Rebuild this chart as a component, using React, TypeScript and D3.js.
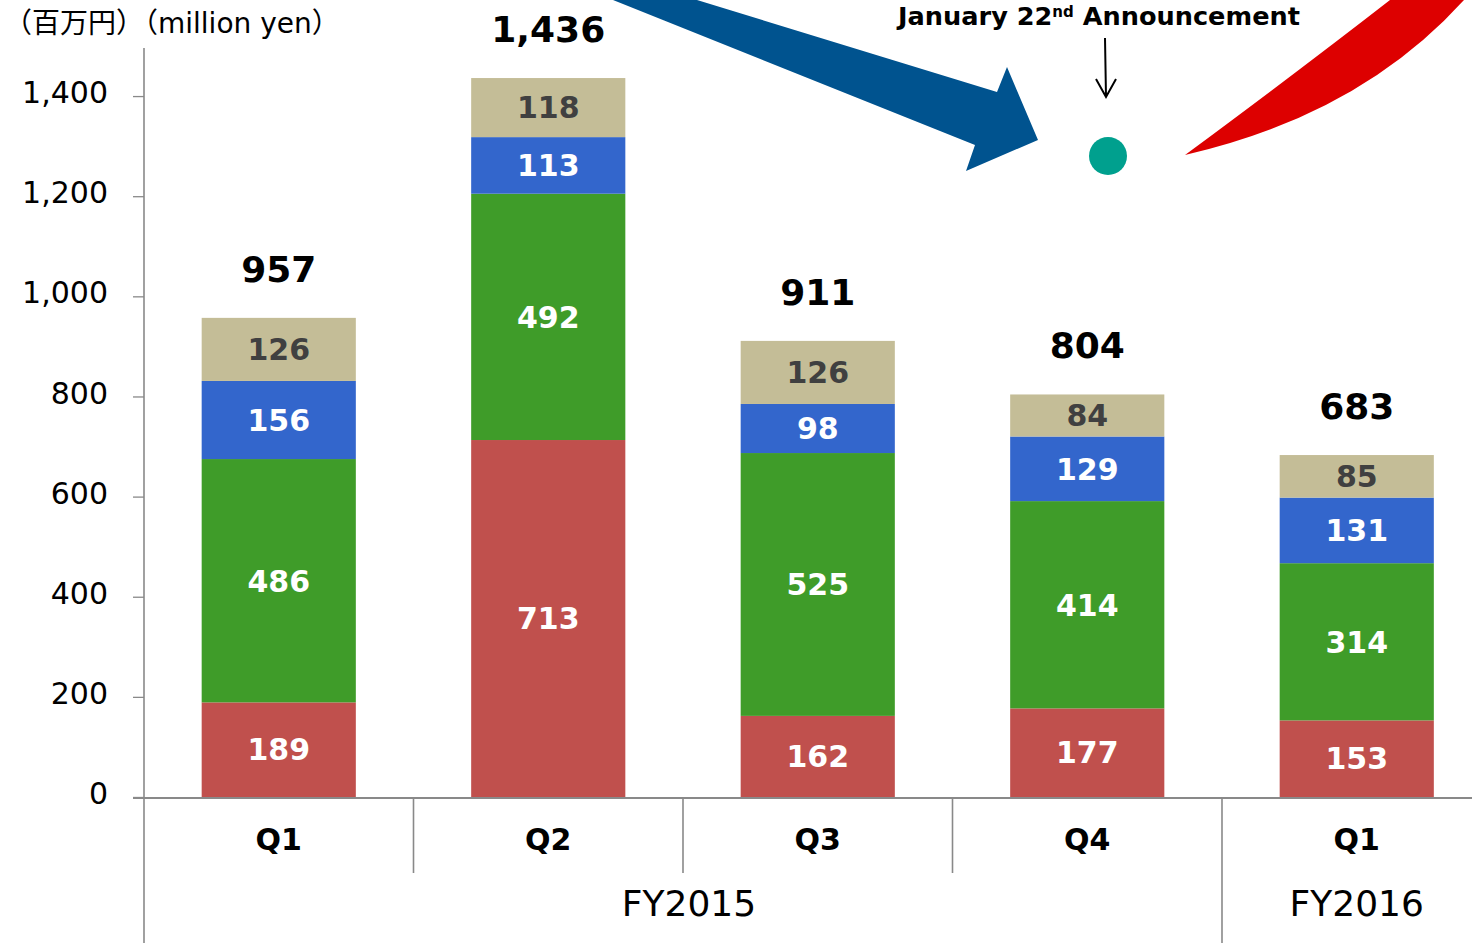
import React, { useEffect, useRef } from "react";
import * as d3 from "d3";

// quarters shown on the x axis
const periods = ["FY2015 Q1", "FY2015 Q2", "FY2015 Q3", "FY2015 Q4", "FY2016 Q1"];
const quarterLabels = ["Q1", "Q2", "Q3", "Q4", "Q1"];
const fiscalYears = ["FY2015", "FY2016"];
const fiscalYearOfPeriod = ["FY2015", "FY2015", "FY2015", "FY2015", "FY2016"];

// stacked segments, bottom to top (million yen)
const redValues = [189, 713, 162, 177, 153];
const greenValues = [486, 492, 525, 414, 314];
const blueValues = [156, 113, 98, 129, 131];
const tanValues = [126, 118, 126, 84, 85];

const yTicks = [0, 200, 400, 600, 800, 1000, 1200, 1400];

const seriesKeys = ["red", "green", "blue", "tan"];
const seriesColors: Record<string, string> = {
  red: "#C0504D",
  green: "#3F9C29",
  blue: "#3366CC",
  tan: "#C4BD97",
};
const labelColors: Record<string, string> = {
  red: "#ffffff",
  green: "#ffffff",
  blue: "#ffffff",
  tan: "#404040",
};

const FONT = "'DejaVu Sans', Verdana, sans-serif";

export default function App() {
  const ref = useRef<SVGSVGElement | null>(null);

  useEffect(() => {
    const W = 1472,
      H = 943;
    const axisX = 144,
      baseY = 797;

    const svg = d3.select(ref.current);
    svg.selectAll("*").remove();

    const rows = periods.map((p, i) => ({
      period: p,
      red: redValues[i],
      green: greenValues[i],
      blue: blueValues[i],
      tan: tanValues[i],
    }));
    const totals = rows.map((r) => r.red + r.green + r.blue + r.tan);

    const x = d3
      .scaleBand<string>()
      .domain(periods)
      .range([axisX, 1491.5])
      .paddingInner(0.428)
      .paddingOuter(0.214);

    const y = d3.scaleLinear().domain([0, 1500]).range([baseY, 46]);

    const stacked = d3.stack<any>().keys(seriesKeys)(rows);

    // y axis ticks + labels
    const yAxis = svg
      .append("g")
      .attr("transform", `translate(${axisX},0)`)
      .call(
        d3
          .axisLeft(y)
          .tickValues(yTicks)
          .tickSize(11)
          .tickPadding(25)
          .tickFormat((d) => d3.format(",")(d as number))
      );
    yAxis.select(".domain").remove();
    yAxis.selectAll(".tick line").attr("stroke", "#898989").attr("stroke-width", 1.3);
    yAxis
      .selectAll(".tick text")
      .attr("fill", "#000")
      .style("font-family", FONT)
      .style("font-size", "30px")
      .attr("dy", "0.22em");

    // bars
    const layer = svg
      .append("g")
      .selectAll("g")
      .data(stacked)
      .join("g")
      .attr("fill", (d) => seriesColors[d.key]);

    layer
      .selectAll("rect")
      .data((d) => d.map((v) => ({ key: d.key, v })))
      .join("rect")
      .attr("x", (d) => x(d.v.data.period) as number)
      .attr("width", x.bandwidth())
      .attr("y", (d) => y(d.v[1]))
      .attr("height", (d) => y(d.v[0]) - y(d.v[1]));

    // segment value labels
    svg
      .append("g")
      .selectAll("g")
      .data(stacked)
      .join("g")
      .selectAll("text")
      .data((d) => d.map((v) => ({ key: d.key, v })))
      .join("text")
      .attr("x", (d) => (x(d.v.data.period) as number) + x.bandwidth() / 2)
      .attr("y", (d) => (y(d.v[0]) + y(d.v[1])) / 2)
      .attr("dy", "0.36em")
      .attr("text-anchor", "middle")
      .attr("fill", (d) => labelColors[d.key])
      .style("font-family", FONT)
      .style("font-weight", "bold")
      .style("font-size", "30px")
      .text((d) => d3.format(",")(d.v[1] - d.v[0]));

    // totals above bars
    svg
      .append("g")
      .selectAll("text")
      .data(periods)
      .join("text")
      .attr("x", (d) => (x(d) as number) + x.bandwidth() / 2)
      .attr("y", (d, i) => y(totals[i]) - 36)
      .attr("text-anchor", "middle")
      .attr("fill", "#000")
      .style("font-family", FONT)
      .style("font-weight", "bold")
      .style("font-size", "36px")
      .text((d, i) => d3.format(",")(totals[i]));

    // axis lines
    svg
      .append("line")
      .attr("x1", axisX)
      .attr("x2", axisX)
      .attr("y1", 48)
      .attr("y2", H)
      .attr("stroke", "#898989")
      .attr("stroke-width", 1.6);
    svg
      .append("line")
      .attr("x1", axisX - 11)
      .attr("x2", W)
      .attr("y1", baseY + 1)
      .attr("y2", baseY + 1)
      .attr("stroke", "#898989")
      .attr("stroke-width", 1.8);

    // dividers between quarters
    const step = x.step();
    periods.slice(1).forEach((p, i) => {
      const bx = (x(p) as number) - (step - x.bandwidth()) / 2;
      const yearBreak = fiscalYearOfPeriod[i + 1] !== fiscalYearOfPeriod[i];
      svg
        .append("line")
        .attr("x1", bx)
        .attr("x2", bx)
        .attr("y1", baseY)
        .attr("y2", yearBreak ? H : 873)
        .attr("stroke", "#898989")
        .attr("stroke-width", 1.6);
    });

    // quarter labels
    svg
      .append("g")
      .selectAll("text")
      .data(periods)
      .join("text")
      .attr("x", (d) => (x(d) as number) + x.bandwidth() / 2)
      .attr("y", 850)
      .attr("text-anchor", "middle")
      .style("font-family", FONT)
      .style("font-weight", "bold")
      .style("font-size", "30px")
      .text((d, i) => quarterLabels[i]);

    // fiscal year labels
    fiscalYears.forEach((fy) => {
      const ps = periods.filter((p, i) => fiscalYearOfPeriod[i] === fy);
      const x0 = (x(ps[0]) as number) - (step - x.bandwidth()) / 2;
      const x1 = (x(ps[ps.length - 1]) as number) + x.bandwidth() + (step - x.bandwidth()) / 2;
      svg
        .append("text")
        .attr("x", (x0 + x1) / 2 + (ps.length > 1 ? 6 : 0))
        .attr("y", 916)
        .attr("text-anchor", "middle")
        .style("font-family", FONT)
        .style("font-size", "36px")
        .text(fy);
    });

    // unit label
    svg
      .append("text")
      .attr("x", 4)
      .attr("y", 33)
      .style("font-family", "'DejaVu Sans', 'Noto Sans CJK JP', sans-serif")
      .style("font-size", "28px")
      .text("（百万円）（million yen）");

    // decorations: big blue arrow, announcement dot, red swoosh
    svg
      .append("path")
      .attr("d", "M613,0 L697,0 L997,92 L1007,67 L1038,140 L966,171 L975,145 Z")
      .attr("fill", "#00538F");

    svg
      .append("path")
      .attr("d", "M1185,155 Q1300,70 1390,0 L1464,0 Q1360,115 1185,155 Z")
      .attr("fill", "#DD0000");

    svg
      .append("circle")
      .attr("cx", 1108)
      .attr("cy", 156)
      .attr("r", 19)
      .attr("fill", "#00A08E");

    svg
      .append("path")
      .attr("d", "M1105,38 L1106,97 M1096,79 L1106,97 L1116,79")
      .attr("fill", "none")
      .attr("stroke", "#000")
      .attr("stroke-width", 2);

    const ann = svg
      .append("text")
      .attr("x", 898)
      .attr("y", 25)
      .style("font-family", FONT)
      .style("font-weight", "bold")
      .style("font-size", "25.6px");
    ann.append("tspan").text("January 22");
    ann.append("tspan").attr("dy", -8).style("font-size", "15px").text("nd");
    ann.append("tspan").attr("dy", 8).text(" Announcement");
  }, []);

  return (
    <svg
      ref={ref}
      width={1472}
      height={943}
      style={{ position: "absolute", left: 0, top: 0, display: "block", background: "#fff" }}
    />
  );
}
